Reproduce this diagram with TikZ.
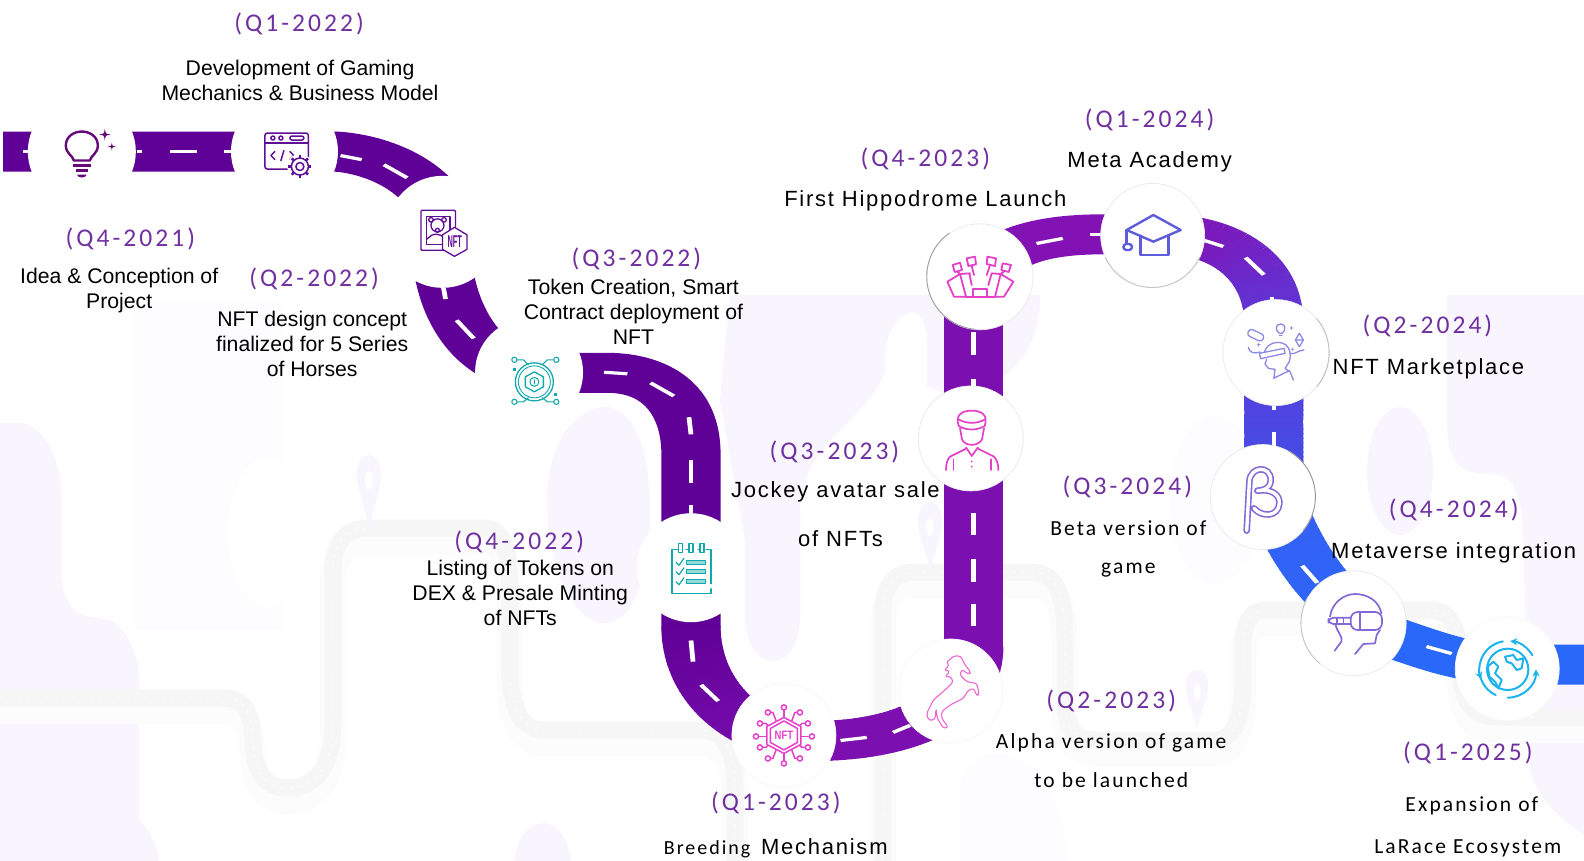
\documentclass[tikz,border=0pt]{standalone}
\usepackage{fontspec}
\usetikzlibrary{arrows.meta,calc}
\setmainfont{Liberation Sans}
\newfontfamily\qfont[LetterSpace=12]{Carlito}
\newfontfamily\sfont[LetterSpace=10]{Carlito}
\newfontfamily\spfont[LetterSpace=8]{Liberation Sans}
\definecolor{qcol}{HTML}{7030A0}
\definecolor{rdark}{HTML}{5F0096}
\definecolor{rmid}{HTML}{7C0FB0}
\definecolor{rtop}{HTML}{8312B5}
\definecolor{rblue}{HTML}{2A68FA}
\definecolor{lav}{HTML}{F8F5FE}
\definecolor{palelav}{HTML}{FDFCFF}
\definecolor{graytrace}{HTML}{F6F6F6}
\definecolor{graysoft}{HTML}{FCFCFC}
\definecolor{icdark}{HTML}{650A78}
\definecolor{icpurple}{HTML}{5F0E96}
\definecolor{icteal}{HTML}{12A8AC}
\definecolor{icmag}{HTML}{E640C8}
\definecolor{iccap}{HTML}{5E5CD8}
\definecolor{icsoft}{HTML}{8C88E4}
\definecolor{icvio}{HTML}{8468D8}
\definecolor{icsky}{HTML}{1DB4EE}
\tikzset{
  roadline/.style={line width=40pt,line cap=butt},
  roaddash/.style={draw=white,line width=3.2pt,line cap=butt},
  stop/.style={circle,fill=white,inner sep=0pt,minimum size=#1},
  softedge/.style={draw=black!9,line width=.7pt},
  rim/.style={draw=black!38,line width=.9pt,line cap=round},
  ic/.style={line width=1.5pt,line join=round,line cap=round},
  qlab/.style={text=qcol,inner sep=0pt,font=\qfont\fontsize{25.5}{28}\selectfont},
  body/.style={text=black,align=center,inner sep=0pt,font=\fontsize{21.2}{25}\selectfont},
  wide/.style={text=black,inner sep=0pt,font=\spfont\fontsize{22}{26}\selectfont},
  wides/.style={text=black,inner sep=0pt,font=\sfont\fontsize{21.5}{26}\selectfont},
  widesm/.style={text=black,inner sep=0pt,font=\sfont\fontsize{20}{26}\selectfont},
  trace/.style={draw=graytrace,line width=17pt,line join=round},
  tracesoft/.style={draw=graysoft,line width=26pt,line join=round},
  tracedash/.style={draw=white,line width=.8pt,dash pattern=on 3pt off 6pt},
  nftmark/.style={inner sep=0pt,font=\bfseries\fontsize{9}{9}\selectfont}
}
\newcommand\sparkshape[3]{\fill (#1,#2-#3) .. controls (#1+.12*#3,#2-.12*#3) .. (#1+#3,#2) .. controls (#1+.12*#3,#2+.12*#3) .. (#1,#2+#3) .. controls (#1-.12*#3,#2+.12*#3) .. (#1-#3,#2) .. controls (#1-.12*#3,#2-.12*#3) .. (#1,#2-#3) -- cycle;}
\def\gradroad(#1,#2)(#3,#4)(#5,#6)(#7,#8){%
  \foreach \i in {0,...,39}{%
    \pgfmathsetmacro\ta{\i/40}%
    \pgfmathsetmacro\tb{min(1,(\i+1.3)/40)}%
    \pgfmathsetmacro\xa{(1-\ta)^3*#1+3*(1-\ta)^2*\ta*#3+3*(1-\ta)*\ta^2*#5+\ta^3*#7}%
    \pgfmathsetmacro\ya{(1-\ta)^3*#2+3*(1-\ta)^2*\ta*#4+3*(1-\ta)*\ta^2*#6+\ta^3*#8}%
    \pgfmathsetmacro\xb{(1-\tb)^3*#1+3*(1-\tb)^2*\tb*#3+3*(1-\tb)*\tb^2*#5+\tb^3*#7}%
    \pgfmathsetmacro\yb{(1-\tb)^3*#2+3*(1-\tb)^2*\tb*#4+3*(1-\tb)*\tb^2*#6+\tb^3*#8}%
    \pgfmathsetmacro\pct{100*\i/39}%
    \colorlet{cc}{cb!\pct!ca}%
    \draw[roadline,draw=cc] (\xa,\ya) -- (\xb,\yb);
  }%
}
\def\traceone{(0,698) -- (225,698) .. controls (248,698) and (253,720) .. (253,745) .. controls (255,770) and (265,788) .. (286,788) .. controls (318,788) and (333,765) .. (333,720) -- (333,570) .. controls (333,545) and (345,528) .. (367,528) -- (486,528) .. controls (503,528) and (510,550) .. (510,600) -- (510,667) .. controls (510,710) and (522,730) .. (545,730) -- (700,730) .. controls (725,730) and (735,750) .. (735,790) -- (735,861)}
\def\tracetwo{(883,861) -- (883,610) .. controls (883,585) and (895,572) .. (915,572) -- (1030,572) .. controls (1055,572) and (1065,590) .. (1065,640) -- (1065,700) .. controls (1065,728) and (1075,740) .. (1095,740) -- (1215,740) .. controls (1235,740) and (1243,715) .. (1243,680) -- (1243,640) .. controls (1245,620) and (1252,610) .. (1265,610) -- (1430,610) .. controls (1450,610) and (1458,625) .. (1460,660) .. controls (1460,700) and (1470,717) .. (1500,717) -- (1584,717)}
\begin{document}
\begin{tikzpicture}[x=1.0102pt,y=-1.0102pt]
\useasboundingbox (0,0) rectangle (1568,852.3);
\fill[white] (0,0) rectangle (1568,852.3);

% ---------- faint backdrop (full-size pixel coordinates)
\begin{scope}[x=1pt,y=-1pt]
  \fill[palelav] (135,300) -- (282,300) -- (282,630) -- (135,630) -- cycle;
  \fill[white] (266,533) ellipse [x radius=38,y radius=75];
  \fill[lav] (0,423) -- (20,423) .. controls (45,425) and (61,460) .. (61,493) -- (61,570) .. controls (61,600) and (75,617) .. (92,617) -- (110,620) .. controls (128,630) and (139,655) .. (139,680) -- (139,820) .. controls (150,830) and (157,845) .. (159,861) -- (0,861) -- cycle;
  \fill[lav] (604,407) .. controls (570,410) and (547,450) .. (547,500) .. controls (547,570) and (575,623) .. (604,623) .. controls (635,623) and (650,570) .. (650,515) .. controls (650,450) and (635,407) .. (604,407) -- cycle;
  \fill[lav] (514,861) .. controls (518,835) and (530,823) .. (543,823) .. controls (556,823) and (567,835) .. (571,861) -- cycle;
  % middle lavender sheet
  \fill[lav] (730,295) -- (1040,295) .. controls (1040,350) and (1010,390) .. (950,395) -- (885,372) .. controls (860,430) and (800,440) .. (800,517) -- (800,613) .. controls (800,650) and (785,661) .. (773,661) .. controls (755,661) and (745,640) .. (745,613) -- (745,540) -- (720,400) -- cycle;
  \fill[white] (885,395) -- (885,360) .. controls (885,330) and (900,313) .. (912,313) .. controls (922,313) and (927,325) .. (927,345) -- (927,400) -- cycle;
  % right lavender sheet
  \fill[lav] (1447,295) -- (1584,295) -- (1584,835) .. controls (1555,815) and (1530,790) .. (1530,761) -- (1523,540) .. controls (1523,500) and (1515,474) .. (1493,474) .. controls (1465,474) and (1447,470) .. (1447,420) -- cycle;
  \fill[lav] (1400,471) ellipse [x radius=33,y radius=64];
  \fill[palelav] (1215,500) ellipse [x radius=45,y radius=85];
  \fill[palelav] (960,861) -- (960,790) .. controls (965,765) and (980,753) .. (995,753) .. controls (1035,753) and (1065,800) .. (1067,861) -- cycle;
  % faint road traces
  \begin{scope}[yshift=-13pt]
    \path[tracesoft] \traceone;
    \path[tracesoft] \tracetwo;
  \end{scope}
  \path[trace] \traceone;
  \path[trace] \tracetwo;
  \path[tracedash] \traceone;
  \path[tracedash] \tracetwo;
  % pins
  \fill[lav] (369,532) .. controls (365,505) and (357,490) .. (357,475) .. controls (357,462) and (362,455) .. (369,455) .. controls (376,455) and (381,462) .. (381,475) .. controls (381,490) and (373,505) .. (369,532) -- cycle;
  \fill[white] (369,480) ellipse [x radius=4,y radius=10];
  \fill[lav] (930,572) .. controls (926,550) and (918,535) .. (918,522) .. controls (918,510) and (923,502) .. (930,502) .. controls (937,502) and (942,510) .. (942,522) .. controls (942,535) and (934,550) .. (930,572) -- cycle;
  \fill[white] (930,527) ellipse [x radius=4,y radius=9];
  \fill[lav] (1197,730) .. controls (1194,712) and (1186,700) .. (1186,687) .. controls (1186,676) and (1190,670) .. (1197,670) .. controls (1204,670) and (1208,676) .. (1208,687) .. controls (1208,700) and (1200,712) .. (1197,730) -- cycle;
  \fill[white] (1197,692) ellipse [x radius=3.5,y radius=8];
\end{scope}

% ---------- the road: canvas stretched so vertical runs are 1.48 times wider
\begin{scope}[transform canvas={xscale=1.48},x=0.68257pt,y=-1.0102pt]
  \draw[roadline,draw=rdark] (3,150) -- (332,150)
     .. controls (378,153) and (435,178) .. (446,232);
  \draw[roadline,draw=rdark] (437,232) .. controls (434,300) and (470,369) .. (540,369)
     -- (600,369) .. controls (650,369) and (684,395) .. (684,450) -- (684,622);
  \colorlet{ca}{rdark!92!rmid}\colorlet{cb}{rmid}
  \gradroad(684,620)(684,680)(730,725)(790,733)
  \colorlet{ca}{rmid}\colorlet{cb}{rmid}
  \gradroad(785,733)(860,737)(964,720)(964,640)
  \draw[roadline,draw=rmid] (964,645) -- (964,300);
  \draw[roadline,draw=rtop] (964,304) .. controls (964,250) and (1020,232) .. (1090,232) -- (1165,232);
  \colorlet{ca}{rtop}
  \definecolor{cb}{HTML}{5E36D6}
  \gradroad(1160,232)(1215,235)(1261,265)(1261,320)
  \definecolor{ca}{HTML}{5E36D6}\definecolor{cb}{HTML}{3F52EA}
  \gradroad(1261,318)(1261,370)(1261,440)(1261,495)
  \definecolor{ca}{HTML}{3560F4}\definecolor{cb}{HTML}{2A68FA}
  \gradroad(1261,490)(1285,560)(1330,610)(1380,632)
  \draw[roadline,draw=rblue] (1378,631) .. controls (1420,645) and (1450,657) .. (1500,658) -- (1568,658);
  % lane dashes
  \foreach \ax/\ay/\bx/\by in {
     23/150/29/150, 136/150/141/150, 168/150/195/150, 222/150/233/150,
     337/154/358/158, 380/163/403/176,
     439/285/441/296, 452/317/469/335,
     598/368.5/621/370, 644/379/667/392, 682/413/684/430, 684/455/684/478, 684/500/684/512,
     684/634/686/655, 694/678/711/694,
     832/733/858/730, 884/725/901/718,
     964/329/964/351, 964/375/964/383, 964/508/964/530, 964/553/964/576, 964/598/964/620,
     1026/241/1052/236, 1079/232.5/1091/232.5,
     1192/238/1211/244, 1233/255/1251/272, 1259/294/1259/299,
     1261/401/1261/406, 1261/428/1261/444,
     1289/560/1304/577, 1412/640/1437/647}{
    \draw[roaddash] (\ax,\ay) -- (\bx,\by);
  }
\end{scope}

% ---------- stops
\node[stop=108pt] (sbulb) at (81,150) {};
\node[stop=107pt] (scode) at (281.6,150) {};
\node[stop=112pt] (sframe) at (438,229.5) {};
\node[stop=108pt] (scoin) at (523.7,368.7) {};
\node[stop=109pt] (slist) at (684,562) {};
\node[stop=104pt,softedge,draw=black!3] (shex) at (776,728) {};
\node[stop=104pt,softedge,draw=black!3] (shorse) at (941,684) {};
\node[stop=106pt,softedge] (shipp) at (970,274) {};
\node[stop=104pt,softedge] (smeta) at (1141,233) {};
\node[stop=106pt,softedge] (smark) at (1263,349) {};
\node[stop=105pt,softedge] (sjock) at (961,434) {};
\node[stop=105pt,softedge] (sbeta) at (1250,492) {};
\node[stop=105pt,softedge] (svr) at (1340,617) {};
\node[stop=104pt,softedge,draw=black!3] (sglobe) at (1492,662) {};
\draw[rim] (shipp.125) arc[start angle=125,end angle=265,radius=53pt];
\draw[rim,draw=black!22] (smeta.205) arc[start angle=205,end angle=335,radius=52pt];
\draw[rim,draw=black!25] (smark.-40) arc[start angle=-40,end angle=40,radius=53pt];
\draw[rim,draw=black!40] (sbeta.60) arc[start angle=60,end angle=-40,radius=52.5pt];
\draw[rim,draw=black!22] (svr.150) arc[start angle=150,end angle=230,radius=52.5pt];

% ---------- icons
% bulb (coordinates relative to the stop)
\begin{scope}[shift={(81,150)},x=1pt,y=-1pt]
  \draw[ic,draw=icdark,line width=2.4pt] (-8,9) .. controls (-9,4) and (-16,2) .. (-16,-6) .. controls (-16,-15) and (-8,-20) .. (0,-20) .. controls (8,-20) and (16,-15) .. (16,-6) .. controls (16,2) and (9,4) .. (8,9) -- cycle;
  \draw[ic,draw=icdark,line width=2.4pt,line cap=butt] (-9,14) -- (9,14) (-6,19) -- (6,19);
  \fill[icdark] (-5,23) -- (5,23) .. controls (4,27) and (-4,27) .. (-5,23) -- cycle;
  \begin{scope}[icdark]
    \sparkshape{23}{-17}{6}
    \sparkshape{30}{-5}{4.2}
  \end{scope}
\end{scope}
% code window
\begin{scope}[shift={(283,150)},x=1pt,y=-1pt,ic,draw=icpurple]
  \draw[rounded corners=2.5pt] (-21,-18.5) rectangle (22.5,17.5);
  \draw (-21,-8.5) -- (22.5,-8.5);
  \draw (-13,-13.5) circle[radius=2] (-5,-13.5) circle[radius=2];
  \draw[rounded corners=2pt] (4,-15.5) rectangle (18,-11.5);
  \draw (-11,0) -- (-15,4) -- (-11,8) (-5,9) -- (-2,-1) (4,0) -- (8,4) -- (4,8);
  \fill[white,draw=white] (14,15) circle[radius=12];
  \foreach \a in {0,45,...,315}{ \draw[line width=2.4pt,line cap=butt] (14,15)+(\a:8) -- +(\a:11.5); }
  \draw (14,15) circle[radius=8.5] (14,15) circle[radius=4];
\end{scope}
% portrait + NFT hexagon
\begin{scope}[shift={(438,229)},x=1pt,y=-1pt,ic,draw=icpurple,line width=1.3pt]
  \draw[rounded corners=1pt] (-21.5,-21) rectangle (13,19);
  \draw (-16,-15) rectangle (7.5,13);
  \draw (-5,-6) circle[radius=6.5];
  \draw (-11.5,-11.5) circle[radius=2.3] (1.5,-11.5) circle[radius=2.3];
  \draw (-5,-1) circle[radius=2];
  \draw (-16,8) -- (-11,4) .. controls (-8,2) and (-3,3) .. (0,5);
  \draw[fill=white] (12,-4) -- (24.5,3.5) -- (24.5,18) -- (12,25) -- (0,18) -- (0,3.5) -- cycle;
  \node[nftmark,text=icpurple,xscale=.82,yscale=1.9] (nfta) at (12.2,10.5) {NFT};
\end{scope}
% chain coin
\begin{scope}[shift={(526,376)},x=1pt,y=-1pt,ic,draw=icteal,fill=icteal,line width=1.3pt]
  \draw (3,2) circle[radius=19];
  \draw[line width=.9pt] (3,2) circle[radius=16];
  \draw (3,-8) -- (12,-3) -- (12,7) -- (3,12) -- (-6,7) -- (-6,-3) -- cycle;
  \draw[line width=1pt] (3,2) circle[radius=4.5];
  \draw[line width=1pt] (3,0) -- (3,4);
  \foreach \xa/\ya/\xb/\yb/\xc/\yc in {-17/-20/-8/-20/-3/-15, 25/-20/16/-20/11/-15, -17/22/-8/22/-3/18, 25/22/16/22/11/18}{
    \draw[line width=1.1pt] (\xa,\ya) -- (\xb,\yb) -- (\xc,\yc);
    \draw[line width=1.1pt,fill=white] (\xa,\ya) circle[radius=2.6];
  }
  \fill[icteal] (-18.5,-11.5) rectangle +(3,3);
  \fill[icteal] (23,13) rectangle +(3,3);
\end{scope}
% checklist
\begin{scope}[shift={(684,562)},x=1pt,y=-1pt,ic,draw=icteal,line width=1.3pt]
  \draw (-12,-18) -- (-19,-18) -- (-19,25.5) -- (20,25.5) -- (20,21) (20,16) -- (20,-18) -- (15,-18) (-5,-18) -- (-2,-18) (7,-18) -- (9,-18);
  \foreach \x in {-10.5,0,11}{ \draw[fill=white] (\x-2,-24) rectangle (\x+2,-15); }
  \foreach \y in {-5.5,4,14}{
    \draw[line width=1.2pt] (-15,\y) -- (-12,\y+3) -- (-7,\y-4);
    \draw[line width=1pt,fill=icteal!45] (-4.5,\y-1.9) rectangle (15,\y+1.9);
  }
\end{scope}
% NFT chip
\begin{scope}[shift={(776,728)},x=1pt,y=-1pt,ic,draw=icmag,line width=1.5pt]
  \foreach \ex/\ey/\fx/\fy/\gx/\gy in {0/-28/0/-28/0/-17, 0/28/0/28/0/17, -28/1/-28/1/-16/1, 28/1/28/1/16/1,
     -16/-23/-11/-23/-8/-15, 16/-23/11/-23/8/-15, -16/23/-11/23/-8/15, 16/23/11/23/8/15,
     -24/-12/-18/-12/-14/-8, 24/-12/18/-12/14/-8, -24/12/-18/12/-14/8, 24/12/18/12/14/8}{
    \draw (\ex,\ey) -- (\fx,\fy) -- (\gx,\gy);
    \draw[fill=white] (\ex,\ey) circle[radius=2.6];
  }
  \draw[fill=white] (0,-18) -- (17,-9) -- (17,9) -- (0,18) -- (-17,9) -- (-17,-9) -- cycle;
  \draw (0,-14.5) -- (13.5,-7) -- (13.5,7) -- (0,14.5) -- (-13.5,7) -- (-13.5,-7) -- cycle;
  \node[nftmark,text=icmag,xscale=1.05,yscale=1.35] (nftb) at (0,0) {NFT};
\end{scope}
% rearing horse (zoomed crop coordinates)
\begin{scope}[x=.33333pt,y=-.33333pt,shift={(900pt,-640pt)},draw=icmag!80,line width=1.1pt,line join=round]
  \draw[rounded corners=2.5pt] (160,48) -- (182,48) -- (195,75) -- (213,97) -- (205,103) -- (185,88) -- (180,105) -- (200,125) -- (230,130) -- (238,165) -- (228,165) -- (222,145) -- (205,150) -- (190,175) -- (150,195) -- (125,215) -- (125,235) -- (145,262) -- (130,265) -- (112,235) -- (108,205) -- (106,235) -- (96,242) -- (84,238) -- (80,220) -- (100,180) -- (135,150) -- (160,125) -- (150,108) -- (135,112) -- (150,92) -- (132,92) -- (148,75) -- (138,66) -- (152,58) -- cycle;
\end{scope}
% hippodrome
\begin{scope}[x=.33333pt,y=-.33333pt,shift={(930pt,-240pt)},ic,draw=icmag,line width=1.8pt]
  \draw (52,125) -- (90,102) -- (108,170) -- (72,170) -- cycle;
  \draw (250,125) -- (212,102) -- (195,170) -- (222,170) -- cycle;
  \draw (108,170) -- (195,170);
  \draw (90,102) -- (120,100) (118,100) -- (125,135) (212,102) -- (185,100) (185,100) -- (175,135);
  \draw (128,170) -- (128,148) -- (172,148) -- (172,170);
  \draw (68,75) -- (90,68) -- (96,90) -- (74,96) -- cycle (82,95) -- (90,102);
  \draw (110,55) -- (135,50) -- (138,73) -- (115,78) -- cycle (125,78) -- (132,105);
  \draw (172,50) -- (198,55) -- (195,78) -- (170,72) -- cycle (180,76) -- (170,105);
  \draw (218,70) -- (243,75) -- (236,96) -- (214,90) -- cycle (225,92) -- (212,102);
\end{scope}
% graduation cap
\begin{scope}[x=.33333pt,y=-.33333pt,shift={(900pt,-170pt)},ic,draw=iccap,line width=2.4pt]
  \draw (760,135) -- (842,180) -- (760,215) -- (680,180) -- cycle;
  \draw (722,197) -- (722,255) -- (805,255) -- (805,197);
  \draw (680,180) -- (680,220);
  \draw[fill=white,rounded corners=3pt] (670,222) rectangle (696,240);
\end{scope}
% jockey
\begin{scope}[x=.33333pt,y=-.33333pt,shift={(900pt,-170pt)},ic,draw=icmag,line width=1.7pt]
  \draw (176,768) .. controls (165,735) and (185,722) .. (215,722) .. controls (245,722) and (265,735) .. (254,768);
  \draw (176,768) .. controls (200,782) and (230,782) .. (254,768);
  \draw (175,748) .. controls (200,762) and (230,762) .. (256,748);
  \draw (180,775) -- (186,808) .. controls (195,830) and (235,830) .. (246,808) -- (252,775);
  \draw (198,832) -- (215,858) -- (234,832);
  \draw (198,836) -- (150,860) .. controls (140,870) and (138,885) .. (138,900);
  \draw (234,836) -- (282,860) .. controls (292,870) and (295,885) .. (295,900);
  \draw (160,868) -- (160,900) (272,868) -- (272,900);
  \fill[icmag] (215,875) circle[radius=3] (215,890) circle[radius=3];
\end{scope}
% head with VR, controller, bulb and diamond (small crop coordinates)
\begin{scope}[x=.33333pt,y=-.33333pt,shift={(1210pt,-300pt)},ic,draw=icsoft,line width=1.3pt]
  \draw (163,158) .. controls (168,130) and (205,118) .. (228,135) .. controls (240,145) and (244,165) .. (238,185);
  \draw (148,160) -- (222,145) -- (225,160) -- (152,176) -- cycle;
  \draw (170,178) -- (165,192) -- (175,205) -- (195,208) -- (192,232);
  \draw (238,185) -- (225,205) -- (240,215) -- (250,240);
  \draw (190,235) -- (238,212);
  \draw (115,142) .. controls (118,158) and (132,162) .. (150,156);
  \draw (240,160) .. controls (255,165) and (265,150) .. (282,150);
  \draw[rounded corners=3pt,rotate around={-25:(138,105)}] (113,95) rectangle (162,117);
  \draw (212,72) .. controls (195,72) and (195,92) .. (208,100) -- (216,100) .. controls (228,92) and (228,72) .. (212,72) -- cycle;
  \draw (208,107) -- (216,107);
  \draw (268,100) -- (280,120) -- (268,140) -- (256,120) -- cycle (256,120) -- (280,120);
  \begin{scope}[icsoft]
    \sparkshape{244}{84}{7}
    \sparkshape{146}{134}{7}
    \sparkshape{248}{148}{6}
  \end{scope}
\end{scope}
% beta
\begin{scope}[x=.33333pt,y=-.33333pt,shift={(1180pt,-440pt)}]
  \def\betapath{(200,272) -- (208,125) .. controls (210,78) and (272,75) .. (272,120) .. controls (272,145) and (250,152) .. (232,152) .. controls (275,145) and (300,165) .. (298,190) .. controls (295,232) and (245,232) .. (222,205)}
  \draw[icvio,line width=6.6pt,line cap=round,line join=round] \betapath;
  \draw[white,line width=3.4pt,line cap=round,line join=round] \betapath;
\end{scope}
% VR head
\begin{scope}[x=.33333pt,y=-.33333pt,shift={(1180pt,-440pt)},ic,draw=icvio,line width=1.7pt]
  \draw (450,530) .. controls (455,490) and (490,462) .. (525,462) .. controls (565,462) and (598,485) .. (604,520);
  \draw[rounded corners=7pt] (512,516) rectangle (606,570);
  \draw (540,516) -- (540,570);
  \draw[rounded corners=5pt] (512,533) -- (445,533) -- (445,552) -- (512,552);
  \draw (470,533) -- (470,552) (490,533) -- (490,552);
  \draw (600,570) -- (590,585) -- (585,610) -- (550,612) -- (525,642);
  \draw (466,553) .. controls (470,575) and (490,590) .. (484,605) -- (464,632);
\end{scope}
% globe
\begin{scope}[x=.33333pt,y=-.33333pt,shift={(1180pt,-440pt)},ic,draw=icsky,line width=2pt]
  \draw (983,688) circle[radius=62];
  \draw[-{Stealth[length=7pt,width=7pt]}] (983,688)+(-30:85) arc[start angle=-30,end angle=-85,radius=85];
  \draw[-{Stealth[length=7pt,width=7pt]}] (983,688)+(90:85) arc[start angle=90,end angle=-0,radius=85];
  \draw[-{Stealth[length=7pt,width=7pt]}] (983,688)+(-100:85) arc[start angle=-100,end angle=-200,radius=85];
  \draw (983,688)+(115:85) arc[start angle=115,end angle=170,radius=85];
  \draw[fill=white] (975,650) -- (1000,645) -- (1010,660) -- (1030,655) -- (1025,685) -- (1010,690) -- (995,670) -- (980,665) -- cycle;
  \draw[fill=white] (923,680) -- (940,665) -- (955,680) -- (945,700) -- (965,720) -- (955,745) -- (945,725) -- (928,710) -- cycle;
\end{scope}

% ---------- labels
\node[qlab] (d1) at (296,23.5) {(Q1-2022)};
\node[body] (t1) at (297,80) {Development of Gaming\\Mechanics \& Business Model};
\node[qlab] (d2) at (129,236.5) {(Q4-2021)};
\node[body] (t2) at (118,288) {Idea \& Conception of\\Project};
\node[qlab] (d3) at (311,276.5) {(Q2-2022)};
\node[body] (t3) at (309,340) {NFT design concept\\finalized for 5 Series\\of Horses};
\node[qlab] (d4) at (630,256.5) {(Q3-2022)};
\node[body] (t4) at (627,309) {Token Creation, Smart\\Contract deployment of\\NFT};
\node[qlab] (d5) at (514,536) {(Q4-2022)};
\node[body] (t5) at (515,587) {Listing of Tokens on\\DEX \& Presale Minting\\of NFTs};
\node[qlab] (d6) at (768,794.5) {(Q1-2023)};
\node[widesm] (t6a) at (700,840.5) {Breeding};
\node[wide] (t6b) at (816,838) {Mechanism};
\node[qlab] (d7) at (1100,693.5) {(Q2-2023)};
\node[wides] (t7a) at (1100,735) {Alpha version of game};
\node[wides] (t7b) at (1100,772) {to be launched};
\node[qlab] (d8) at (826,447.5) {(Q3-2023)};
\node[wide] (t8a) at (827,487) {Jockey avatar sale};
\node[wide] (t8b) at (832,533.5) {of NFTs};
\node[qlab] (d9) at (916,157.5) {(Q4-2023)};
\node[wide] (t9) at (916,199) {First Hippodrome Launch};
\node[qlab] (d10) at (1138,118.5) {(Q1-2024)};
\node[wide] (t10) at (1138,160) {Meta Academy};
\node[qlab] (d11) at (1413,322.5) {(Q2-2024)};
\node[wide] (t11) at (1414,365) {NFT Marketplace};
\node[qlab] (d12) at (1116,482.5) {(Q3-2024)};
\node[wides] (t12a) at (1117,523) {Beta version of};
\node[wides] (t12b) at (1117,564) {game};
\node[qlab] (d13) at (1439,504.5) {(Q4-2024)};
\node[wide] (t13) at (1439,547) {Metaverse integration};
\node[qlab] (d14) at (1453,745.5) {(Q1-2025)};
\node[wides] (t14a) at (1457,798) {Expansion of};
\node[wides] (t14b) at (1453,840) {LaRace Ecosystem};
\end{tikzpicture}
\end{document}
